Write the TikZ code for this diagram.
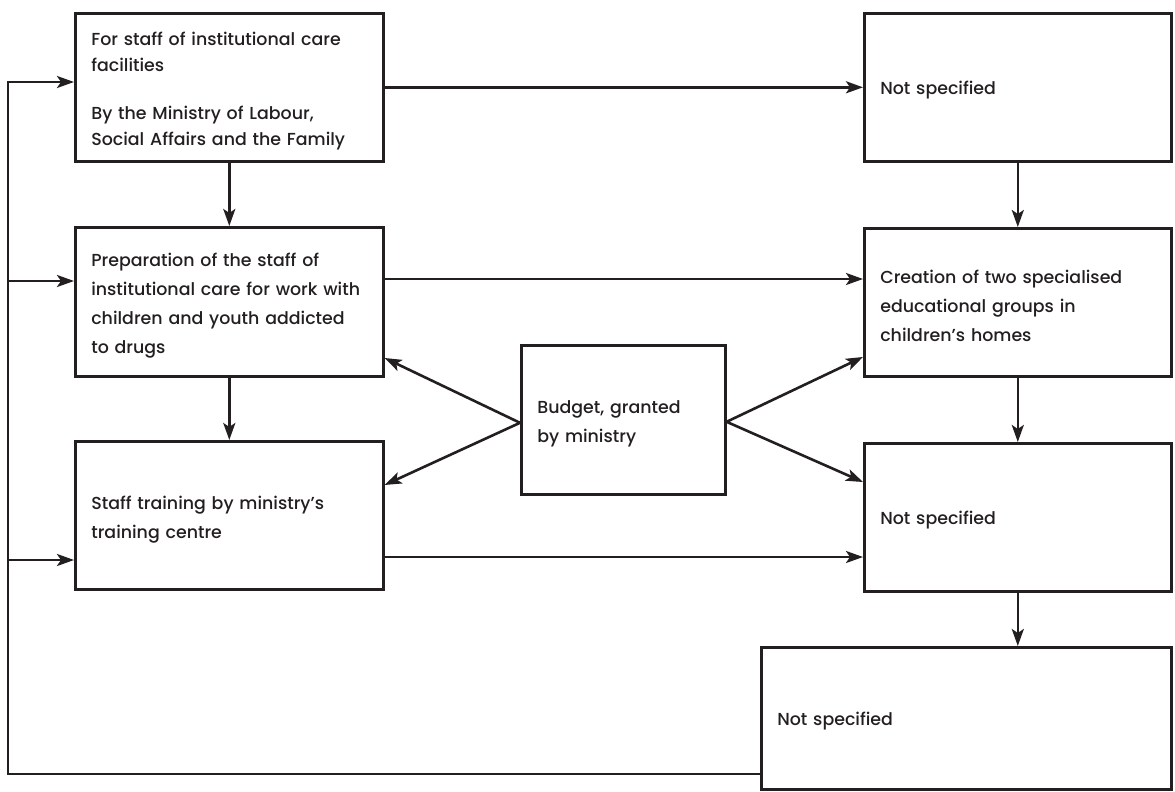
\documentclass[tikz,border=0pt]{standalone}
\usepackage{fontspec}
\setmainfont{Poppins}[UprightFont=* Medium]
\usetikzlibrary{arrows.meta,calc}
\definecolor{ink}{HTML}{231F20}
\begin{document}
\begin{tikzpicture}[x=1bp,y=-1bp,
  box/.style={draw=ink, line width=2.6bp, rectangle, anchor=north west, inner xsep=16bp, inner ysep=0pt,
    align=left, text=ink, font=\fontsize{17.4bp}{29bp}\selectfont},
  arr/.style={draw=ink, line width=2.6bp, -{Stealth[length=17bp,width=12bp,inset=4bp]}},
  ln/.style={draw=ink, line width=2.6bp}]
\useasboundingbox (0,0) rectangle (1175,792);
\node[box, text width=276bp, minimum height=148bp, font=\fontsize{17.4bp}{26bp}\selectfont] (A) at (74,12)
  {For staff of institutional care\\facilities\\[22bp]By the Ministry of Labour,\\Social Affairs and the Family\vspace{-8bp}};
\node[box, text width=276bp, minimum height=149bp] (B) at (74,226)
  {Preparation of the staff of\\institutional care for work with\\children and youth addicted\\to drugs\vspace{-8bp}};
\node[box, text width=276bp, minimum height=148bp] (C) at (74,440)
  {Staff training by ministry's\\training centre\vspace{-8bp}};
\node[box, text width=172bp, minimum height=149bp] (Bud) at (520,344)
  {Budget, granted\\by ministry\vspace{-8bp}};
\node[box, text width=275bp, minimum height=148bp] (D) at (863,12) {Not specified\vspace{-8bp}};
\node[box, text width=275bp, minimum height=148bp] (E) at (863,227)
  {Creation of two specialised\\educational groups in\\children's homes\vspace{-8bp}};
\node[box, text width=275bp, minimum height=148bp] (F) at (863,442) {Not specified\vspace{-8bp}};
\node[box, text width=378bp, minimum height=142bp] (G) at (760,646) {Not specified\vspace{-8bp}};
% horizontal arrows
\draw[arr] (A.east) -- (A.east -| D.west);
\coordinate (bo) at ($(B.north east)+(0,53)$);
\draw[arr] (bo) -- (bo -| E.west);
\coordinate (co) at ($(C.north east)+(0,117)$);
\draw[arr] (co) -- (co -| F.west);
% vertical arrows
\draw[arr] (A.south) -- (B.north);
\draw[arr] (B.south) -- (C.north);
\draw[arr] (D.south) -- (E.north);
\draw[arr] (E.south) -- (F.north);
\draw[arr] (F.south) -- (F.south |- G.north);
% budget arrows
\coordinate (bl) at ($(Bud.west)+(0,3)$);
\coordinate (br) at ($(Bud.east)+(0,2)$);
\draw[arr] (bl) -- ($(B.north east)+(0,132)$);
\draw[arr] (bl) -- ($(C.north east)+(0,45)$);
\draw[arr] (br) -- ($(E.north west)+(0,130)$);
\draw[arr] (br) -- ($(F.north west)+(0,40)$);
% feedback loop
\coordinate (gf) at ($(G.north west)+(0,128)$);
\coordinate (fl) at (8,774);
\coordinate (fa) at (8,82);
\coordinate (fb) at (8,281);
\coordinate (fc) at (8,560);
\draw[arr] (gf) -- (fl) -- (fa) -- (fa -| A.west);
\draw[arr] (fb) -- (fb -| B.west);
\draw[arr] (fc) -- (fc -| C.west);
\end{tikzpicture}
\end{document}
